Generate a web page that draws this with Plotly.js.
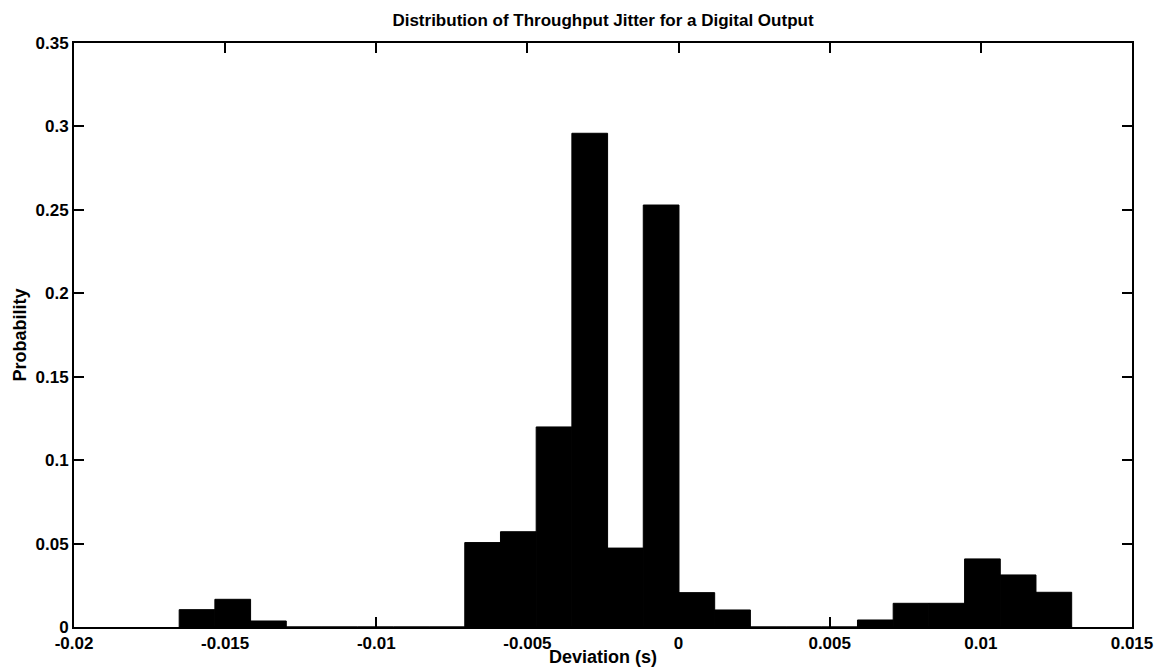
<!DOCTYPE html>
<html>
<head>
<meta charset="utf-8">
<script src="https://cdn.plot.ly/plotly-3.0.1.min.js"></script>
<style>html,body{margin:0;padding:0;background:#fff;}#chart{width:1158px;height:667px;}</style>
</head>
<body>
<div id="chart"></div>
<script>
// Histogram bin centers (s), 25 bins
const binCenters = [-0.01593, -0.014749, -0.013568, -0.012387, -0.011206, -0.010025, -0.008844, -0.007663,
  -0.006482, -0.005301, -0.00412, -0.002939, -0.001758, -0.000577, 0.000604, 0.001785,
  0.002966, 0.004147, 0.005328, 0.006509, 0.00769, 0.008871, 0.010052, 0.011233, 0.012414];
// Probability per bin
const probability = [0.0104, 0.0166, 0.0036, 0, 0, 0, 0, 0,
  0.0506, 0.0571, 0.1199, 0.2959, 0.0473, 0.2529, 0.0206, 0.0102,
  0, 0, 0, 0.0042, 0.0142, 0.0142, 0.0408, 0.0312, 0.0208];
const binWidth = 0.001181;

const xTickVals = [-0.02, -0.015, -0.01, -0.005, 0, 0.005, 0.01, 0.015];
const xTickText = ['-0.02', '-0.015', '-0.01', '-0.005', '0', '0.005', '0.01', '0.015'];
const yTickVals = [0, 0.05, 0.1, 0.15, 0.2, 0.25, 0.3, 0.35];
const yTickText = ['0', '0.05', '0.1', '0.15', '0.2', '0.25', '0.3', '0.35'];

const font = 'Liberation Sans, Arial, Helvetica, sans-serif';

const trace = {
  type: 'bar',
  x: binCenters,
  y: probability,
  width: binCenters.map(() => binWidth),
  marker: {color: '#000000', line: {color: '#000000', width: 1}},
  hoverinfo: 'x+y'
};

const axisCommon = {
  showline: true, linecolor: '#000', linewidth: 2,
  mirror: 'ticks', ticks: 'inside', ticklen: 10, tickwidth: 2, tickcolor: '#000',
  showgrid: false, zeroline: false, automargin: false,
  tickfont: {family: font, size: 17, color: '#000', weight: 'bold'}
};

const layout = {
  width: 1158, height: 667,
  margin: {l: 74, r: 26, t: 43, b: 40},
  paper_bgcolor: '#fff', plot_bgcolor: '#fff',
  showlegend: false,
  bargap: 0,
  title: {
    text: 'Distribution of Throughput Jitter for a Digital Output',
    font: {family: font, size: 17, color: '#000', weight: 'bold'},
    x: 0.5, xref: 'paper', y: 0.97, yref: 'container', yanchor: 'middle'
  },
  xaxis: Object.assign({}, axisCommon, {
    range: [-0.02, 0.015],
    tickvals: xTickVals, ticktext: xTickText,
    title: {text: 'Deviation (s)', font: {family: font, size: 18, color: '#000', weight: 'bold'}, standoff: 0}
  }),
  yaxis: Object.assign({}, axisCommon, {
    range: [0, 0.35],
    tickvals: yTickVals, ticktext: yTickText,
    title: {text: 'Probability', font: {family: font, size: 18, color: '#000', weight: 'bold'}, standoff: 4}
  })
};

Plotly.newPlot('chart', [trace], layout, {displayModeBar: false, staticPlot: true});
</script>
</body>
</html>
